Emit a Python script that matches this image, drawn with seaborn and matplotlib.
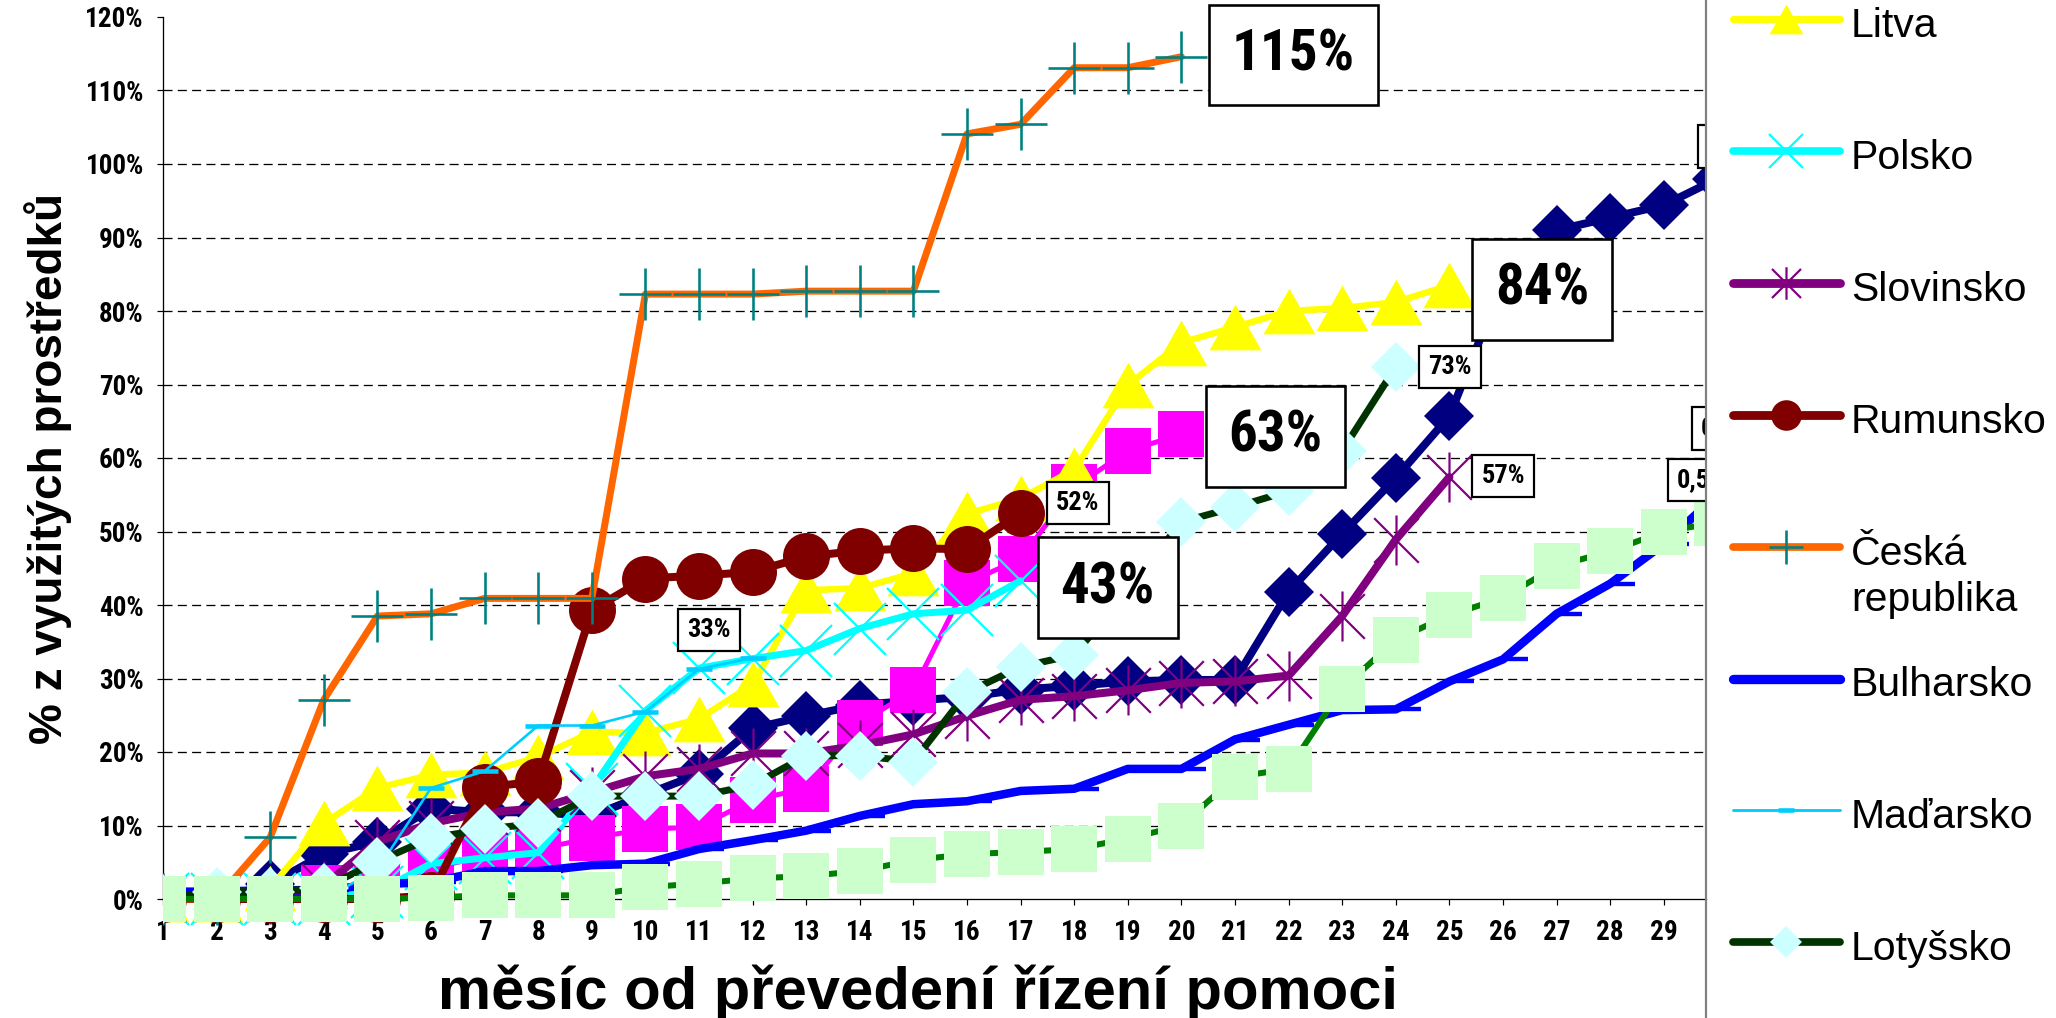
import os
import numpy as np
import pandas as pd
import seaborn as sns
import matplotlib
matplotlib.use("Agg")
import matplotlib.pyplot as plt
from matplotlib.path import Path
from matplotlib.lines import Line2D
from matplotlib import font_manager as fm
from matplotlib.font_manager import FontProperties

# ---------------- data: % of allocated funds used, by month ----------------
months = list(range(1, 31))

slovensko = [0, 0, 2.0, 6.1, 7.8, 12.3, 11.8, 11.8, 11.3, 14.2, 17.0, 23.2, 24.9, 26.4, 27.0,
             27.5, 28.5, 29.0, 29.6, 29.8, 29.8, 41.8, 49.7, 57.3, 65.7, 84.0, 91.0, 92.7, 94.4, 98.0]
estonsko = [0, 0, 0, 1.5, 1.5, 4.2, 5.8, 6.8, 8.3, 9.5, 9.8, 13.5, 15.0, 23.9, 28.4,
            43.0, 46.3, 56.0, 61.0, 63.2]
litva = [0, 0, 1.5, 10.3, 15.1, 16.9, 17.2, 19.3, 22.7, 22.6, 24.5, 29.2, 42.0, 42.3, 44.3,
         52.4, 54.5, 58.4, 69.9, 75.7, 77.8, 80.0, 80.4, 81.2, 83.5]
polsko = [0, 0, 0, 0, 1.0, 4.8, 5.6, 6.3, 15.0, 25.6, 31.4, 32.7, 33.8, 36.8, 38.8, 39.3, 43.3]
slovinsko = [0, 0, 0, 1.8, 7.8, 10.3, 11.8, 12.3, 14.5, 16.7, 17.7, 19.8, 19.8, 20.9, 22.4,
             24.9, 27.1, 27.6, 28.4, 29.4, 29.6, 30.4, 38.5, 48.9, 57.4]
rumunsko = [0, 0, 0, 0, 0, 0.5, 15.2, 16.0, 39.3, 43.6, 44.0, 44.5, 46.6, 47.4, 47.7, 47.6, 52.5]
cesko = [0, 0, 8.4, 27.1, 38.5, 38.8, 40.9, 40.9, 40.9, 82.3, 82.3, 82.3, 82.7, 82.7, 82.7,
         104.1, 105.4, 113.1, 113.1, 114.6]
bulharsko = [1.0, 1.0, 1.2, 1.2, 2.0, 2.3, 3.8, 3.8, 4.6, 4.8, 6.8, 8.0, 9.3, 11.3, 12.9,
             13.3, 14.7, 15.0, 17.7, 17.7, 21.7, 23.7, 25.7, 25.8, 29.6, 32.6, 38.8, 42.9, 48.3, 55.0]
madarsko = [0, 0, 0, 0, 4.0, 15.1, 17.4, 23.6, 23.6, 25.5, 31.3, 32.8]
lotyssko = [0, 1.0, 1.0, 1.5, 5.1, 8.3, 9.5, 10.3, 14.0, 14.0, 14.0, 15.5, 19.5, 19.5, 18.7,
            28.1, 31.6, 33.2, 42.0, 51.3, 53.3, 55.5, 61.0, 72.4]
kypr = [0, 0, 0, 0, 0, 0.2, 0.5, 0.5, 0.5, 1.6, 2.1, 2.8, 3.1, 3.8, 5.3, 6.1, 6.4, 6.8, 8.2,
        10.0, 16.6, 17.7, 28.6, 35.3, 38.6, 41.0, 45.3, 47.3, 50.0, 51.2]

series_names = ["Slovensko", "Estonsko", "Litva", "Polsko", "Slovinsko", "Rumunsko",
                "Česká republika", "Bulharsko", "Maďarsko", "Lotyšsko", "Kypr"]
series_values = [slovensko, estonsko, litva, polsko, slovinsko, rumunsko, cesko,
                 bulharsko, madarsko, lotyssko, kypr]
legend_names = ["Litva", "Polsko", "Slovinsko", "Rumunsko", "Česká republika",
                "Bulharsko", "Maďarsko", "Lotyšsko"]
legend_texts = ["Litva", "Polsko", "Slovinsko", "Rumunsko", "Česká\nrepublika",
                "Bulharsko", "Maďarsko", "Lotyšsko"]

y_ticks = list(range(0, 121, 10))
x_ticks = list(range(1, 30))
grid_values = list(range(10, 111, 10))

# data labels: series, month, text
label_series = ["Česká republika", "Litva", "Estonsko", "Polsko", "Rumunsko", "Maďarsko",
                "Lotyšsko", "Slovinsko", "Slovensko", "Kypr", "Bulharsko"]
label_month = [20, 25, 20, 17, 17, 12, 24, 25, 30, 30, 30]
label_text = ["115%", "84%", "63%", "43%", "52%", "33%", "73%", "57%", "0,98", "0,51", "0,55"]

# ---------------- fonts (bold condensed, like Arial Narrow Bold) ----------------
def find_bold_narrow():
    prefs = [("liberationsansnarrowbold", 1.0), ("arialnarrowbold", 1.0),
             ("robotocondensedbold", 1.0), ("archivonarrowbold", 1.0)]
    files = []
    for f in fm.fontManager.ttflist:
        k = os.path.basename(f.fname).lower().replace("_", "").replace("-", "").replace(" ", "")
        if "italic" in k or "oblique" in k:
            continue
        files.append((k, f.fname))
    for key, sc in prefs:
        for k, fn in files:
            if k.startswith(key):
                return fn, sc
    return None, 0.86


NARROW_FILE, NS = find_bold_narrow()


def nfont(size):
    if NARROW_FILE:
        return FontProperties(fname=NARROW_FILE, size=size * NS)
    return FontProperties(family=["Liberation Sans", "DejaVu Sans"], weight="bold",
                          size=size * NS)


sns.set_theme(style="white")
plt.rcParams["font.family"] = ["Liberation Sans", "DejaVu Sans"]
plt.rcParams["lines.scale_dashes"] = False
plt.rcParams["text.color"] = "black"

W, H = 2056, 1018
X0, X1 = 163, 1706          # x=1 position, right clip edge (px)
YB = 928                    # axes bottom (px)
Y0 = 899                    # y=0 position
PXM = 53.6                  # px per month
PXP = 7.35                  # px per percent

fig = plt.figure(figsize=(W / 100, H / 100), dpi=100, facecolor="white")
ax = fig.add_axes([X0 / W, 1 - YB / H, (X1 - X0) / W, YB / H])
ax.patch.set_alpha(0)
for s in ["top", "right"]:
    ax.spines[s].set_visible(False)
ax.spines["bottom"].set_position(("data", 0))
ax.set_xlim(1, 1 + (X1 - X0) / PXM)
ax.set_ylim((Y0 - YB) / PXP, Y0 / PXP)

tri = Path([(0, 0.88), (-1, -0.88), (1, -0.88), (0, 0.88)], [1, 2, 2, 79])
ast = Path([(-1, -1), (1, 1), (-1, 1), (1, -1), (0, -1.12), (0, 1.12)], [1, 2, 1, 2, 1, 2])
dash_r = Path([(0, 0), (1, 0)], [1, 2])

P = 0.72  # px -> pt
styles = {
    "Slovensko": dict(color="#000080", linewidth=8 * P, marker="D", markersize=35 * P,
                      markerfacecolor="#000080", markeredgecolor="#000080", markeredgewidth=0),
    "Estonsko": dict(color="#FF00FF", linewidth=5 * P, marker="s", markersize=46 * P,
                     markerfacecolor="#FF00FF", markeredgecolor="#FF00FF", markeredgewidth=0),
    "Litva": dict(color="#FFFF00", linewidth=6.5 * P, marker=tri, markersize=52 * P,
                  markerfacecolor="#FFFF00", markeredgecolor="#FFFF00", markeredgewidth=0),
    "Polsko": dict(color="#00FFFF", linewidth=7 * P, marker="x", markersize=53 * P,
                   markerfacecolor="none", markeredgecolor="#00FFFF", markeredgewidth=2.2 * P),
    "Slovinsko": dict(color="#800080", linewidth=8 * P, marker=ast, markersize=50 * P,
                      markerfacecolor="none", markeredgecolor="#800080", markeredgewidth=2.2 * P),
    "Rumunsko": dict(color="#800000", linewidth=8 * P, marker="o", markersize=47 * P,
                     markerfacecolor="#800000", markeredgecolor="#800000", markeredgewidth=0),
    "Česká republika": dict(color="#FF6600", linewidth=7 * P, marker="+", markersize=52 * P,
                            markerfacecolor="none", markeredgecolor="#008080",
                            markeredgewidth=2.6 * P),
    "Bulharsko": dict(color="#0000FF", linewidth=8.5 * P, marker=dash_r, markersize=50 * P,
                      markerfacecolor="none", markeredgecolor="#0000FF", markeredgewidth=4.4 * P),
    "Maďarsko": dict(color="#00CCFF", linewidth=2.6 * P, marker="_", markersize=26 * P,
                     markerfacecolor="none", markeredgecolor="#00CCFF", markeredgewidth=4.6 * P),
    "Lotyšsko": dict(color="#003300", linewidth=7 * P, marker="D", markersize=35 * P,
                     markerfacecolor="#CCFFFF", markeredgecolor="#CCFFFF", markeredgewidth=0),
    "Kypr": dict(color="#008000", linewidth=6 * P, marker="s", markersize=46 * P,
                 markerfacecolor="#CCFFCC", markeredgecolor="#CCFFCC", markeredgewidth=0),
}

# grid
for g in grid_values:
    ax.axhline(g, color="black", linewidth=1.3 * P, linestyle=(0, (6.5, 3.8)), zorder=1)

data = {}
for i, (name, vals) in enumerate(zip(series_names, series_values)):
    data[name] = vals
    df = pd.DataFrame({"month": months[:len(vals)], "value": vals})
    sns.lineplot(data=df, x="month", y="value", ax=ax, legend=False, errorbar=None,
                 estimator=None, zorder=3 + i, solid_capstyle="round",
                 solid_joinstyle="round", **styles[name])

# data label boxes (offsets in px from the point)
label_offsets = {
    "115%": (112, 1.5, "big"), "84%": (93, -4, "big"), "63%": (94, -2, "big"),
    "43%": (87, -7, "big"), "52%": (57, 10, "small"), "33%": (-44, 28, "small"),
    "73%": (54, 0, "small"), "57%": (54, 1, "small"), "0,98": (13, 32, "small"),
    "0,51": (7, 94, "small"), "0,55": (-17, 15, "small"),
}
for sname, m, txt in zip(label_series, label_month, label_text):
    v = data[sname][m - 1]
    dx, dy, kind = label_offsets[txt]
    big = kind == "big"
    t = ax.annotate(txt, xy=(m, v), xytext=(dx, dy), textcoords="offset pixels",
                    ha="center", va="center", fontproperties=nfont(41 if big else 19),
                    color="black", annotation_clip=False, zorder=40,
                    bbox=dict(boxstyle=f"square,pad={0.4 if big else 0.35}", fc="white",
                              ec="black", lw=(2.6 if big else 2.2) * P))
    t.set_clip_box(ax.bbox)
    t.set_clip_on(True)

# axes ticks
ax.set_xticks(x_ticks)
ax.set_xticklabels([str(t) for t in x_ticks])
ax.set_yticks(y_ticks)
ax.set_yticklabels([f"{t}%" for t in y_ticks])
ax.tick_params(axis="x", bottom=True, direction="out", length=6 * P, width=1.2 * P,
               pad=14 * P, color="black", labelcolor="black")
ax.tick_params(axis="y", left=True, direction="out", length=6 * P, width=1.2 * P,
               pad=13 * P, color="black", labelcolor="black")
for lbl in ax.get_xticklabels() + ax.get_yticklabels():
    lbl.set_fontproperties(nfont(19.5))
    lbl.set_color("black")
ax.spines["left"].set_bounds(0, 120)
ax.spines["left"].set_color("black")
ax.spines["left"].set_linewidth(1.3 * P)
ax.spines["bottom"].set_color("black")
ax.spines["bottom"].set_linewidth(1.3 * P)
ax.spines["bottom"].set_zorder(2)
ax.set_xlabel("")
ax.set_ylabel("")

fig.text(918 / W, 1 - 1009 / H, "měsíc od převedení řízení pomoci", ha="center",
         va="baseline", fontsize=43, fontweight="bold", color="black")
fig.text(48 / W, 1 - 468 / H, "% z využitých prostředků", rotation=90, ha="center",
         va="center", fontsize=33, fontweight="bold", color="black")

# right border line
fig.add_artist(Line2D([X1 / W, X1 / W], [0, 1], transform=fig.transFigure,
                      color="#808080", linewidth=2.2 * P))

# legend (visible part)
lax = fig.add_axes([X1 / W, 0, 1 - X1 / W, 1])
lax.set_xlim(X1, W)
lax.set_ylim(H, 0)
lax.axis("off")
for i, (name, txt) in enumerate(zip(legend_names, legend_texts)):
    y = 19 + 131.9 * i
    st = dict(styles[name])
    lax.plot([1733, 1840], [y, y], color=st["color"], linewidth=max(st["linewidth"], 2 * P) * 1.1,
             solid_capstyle="round")
    lax.plot([1786], [y], linestyle="none", marker=st["marker"],
             markersize=st["markersize"] * 0.65, markerfacecolor=st["markerfacecolor"],
             markeredgecolor=st["markeredgecolor"], markeredgewidth=st["markeredgewidth"])
    for k, line in enumerate(txt.split("\n")):
        lax.text(1851, y + 18 + 46 * k, line, fontsize=29.5, ha="left", va="baseline",
                 color="black", family=["Liberation Sans", "DejaVu Sans"])

fig.savefig("out.png", dpi=100, facecolor="white")
